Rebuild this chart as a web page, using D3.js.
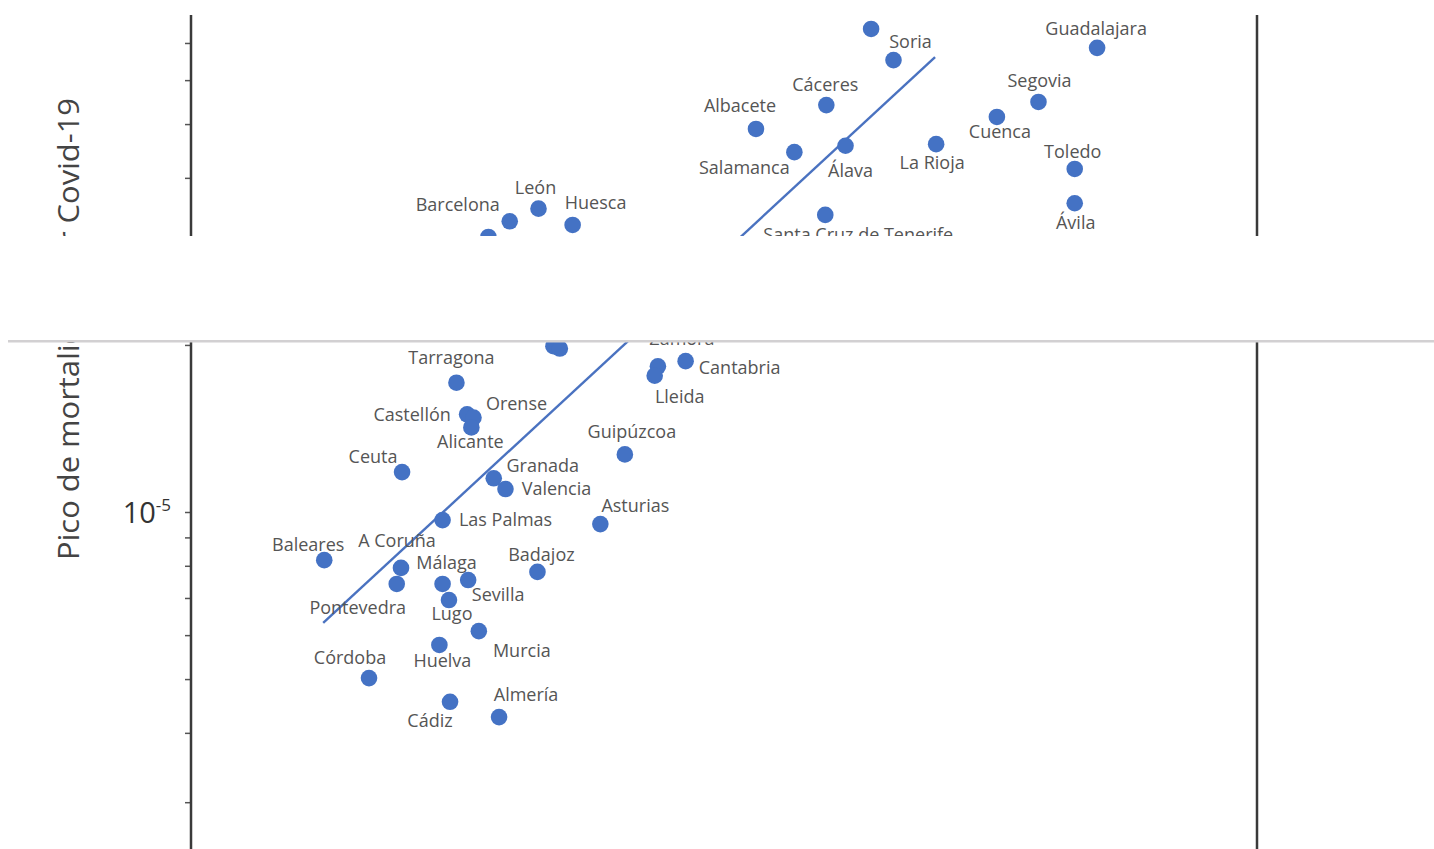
<!DOCTYPE html>
<html>
<head>
<meta charset="utf-8">
<title>Pico de mortalidad por Covid-19</title>
<script src="https://d3js.org/d3.v7.min.js"></script>
<style>
body{margin:0; background:#fff;}
svg{display:block;}
text{font-family:"Open Sans", sans-serif;}
</style>
</head>
<body>
<script>
// provincias (names "" = label not visible in the picture)
var provincias = ["", "Soria", "Guadalajara", "Segovia", "Cuenca", "Cáceres", "Albacete", "Álava",
  "Salamanca", "La Rioja", "Toledo", "Ávila", "Santa Cruz de Tenerife", "León", "Barcelona", "Huesca", "",
  "", "", "Zamora", "Lleida", "Cantabria", "Tarragona", "Castellón", "Orense", "Alicante", "Guipúzcoa",
  "Ceuta", "Granada", "Valencia", "Asturias", "Las Palmas", "Baleares", "A Coruña", "Pontevedra",
  "Málaga", "Lugo", "Sevilla", "Badajoz", "Murcia", "Huelva", "Córdoba", "Cádiz", "Almería"];

// x values (axis units not visible, read as 0-100 across the plot)
var xValor = [63.8, 65.9, 85.0, 79.5, 75.6, 59.6, 53.0, 61.4,
  56.6, 69.9, 82.9, 82.9, 59.5, 32.6, 29.9, 35.8, 27.9,
  34.0, 34.6, 43.8, 43.5, 46.4, 24.9, 25.9, 26.5, 26.3, 40.7,
  19.8, 28.4, 29.5, 38.4, 23.6, 12.5, 19.7, 19.3,
  23.6, 24.2, 26.0, 32.5, 27.0, 23.3, 16.7, 24.3, 28.9];

// pico de mortalidad (log scale)
var yPico = [7.42e-5, 6.52e-5, 6.86e-5, 5.48e-5, 5.15e-5, 5.41e-5, 4.90e-5, 4.57e-5,
  4.45e-5, 4.60e-5, 4.15e-5, 3.60e-5, 3.43e-5, 3.52e-5, 3.34e-5, 3.29e-5, 3.13e-5,
  1.99e-5, 1.97e-5, 1.83e-5, 1.76e-5, 1.87e-5, 1.71e-5, 1.50e-5, 1.48e-5, 1.42e-5, 1.27e-5,
  1.18e-5, 1.15e-5, 1.10e-5, 9.51e-6, 9.67e-6, 8.19e-6, 7.93e-6, 7.42e-6,
  7.42e-6, 6.94e-6, 7.54e-6, 7.80e-6, 6.10e-6, 5.76e-6, 5.02e-6, 4.55e-6, 4.27e-6];

// label offsets from the point (px)
var labelDx = [0, 17, -1, 1, 3, -1, -16, 5,
  -50, -4, -2, 1, 33, -3, -52, 23, 0,
  0, 0, 24, 25, 54, -5, -55, 43, -1, 7,
  -29, 49, 51, 35, 63, -16, -4, -39,
  4, 3, 30, 4, 43, 3, -19, -20, 27];
var labelDy = [0, -18, -19, -21, 15, -20, -23, 25,
  16, 19, -17, 19, 20, -21, -17, -22, 0,
  0, 0, -28, 21, 7, -25, 0, -14, 14, -23,
  -15, -13, 0, -18, 0, -15, -27, 24,
  -21, 14, 15, -17, 20, 16, -20, 19, -22];

// linea de tendencia
var tendenciaX = [12.4, 69.8];
var tendenciaY = [6.31e-6, 6.60e-5];

var yTicks = [3e-6, 4e-6, 5e-6, 6e-6, 7e-6, 8e-6, 9e-6, 1e-5, 2e-5, 3e-5, 4e-5, 5e-5, 6e-5, 7e-5];

var width = 1434, height = 849;
var plotLeft = 191, plotRight = 1257, plotTop = 15;

var svg = d3.select("body").append("svg").attr("width", width).attr("height", height);

var x = d3.scaleLinear().domain([0, 100]).range([plotLeft, plotRight]);
var y = d3.scaleLog().domain([1e-6, 1e-4]).range([512 + 555, 512 - 555]);

// left axis ticks
var ax = svg.append("g").attr("transform", "translate(" + plotLeft + ",0)")
  .call(d3.axisLeft(y).tickValues(yTicks).tickSize(6).tickFormat(""));
ax.select(".domain").remove();
ax.selectAll(".tick line").attr("stroke", "#555").attr("stroke-width", 1.5);

// axis frame lines
svg.append("line").attr("x1", plotLeft).attr("x2", plotLeft).attr("y1", plotTop).attr("y2", height)
  .attr("stroke", "#3a3a3a").attr("stroke-width", 2.5);
svg.append("line").attr("x1", plotRight).attr("x2", plotRight).attr("y1", plotTop).attr("y2", height)
  .attr("stroke", "#3a3a3a").attr("stroke-width", 2.5);

// 10^-5 label
var tl = svg.append("text").attr("x", 171).attr("y", y(1e-5) + 11)
  .attr("text-anchor", "end").attr("fill", "#333");
tl.append("tspan").attr("font-size", 29).text("10");
tl.append("tspan").attr("font-size", 17).attr("dy", -12).text("-5");

// y title
svg.append("text").attr("transform", "translate(79,560) rotate(-90)")
  .attr("text-anchor", "start").attr("font-size", 30).attr("fill", "#444")
  .attr("textLength", 462).attr("lengthAdjust", "spacingAndGlyphs")
  .text("Pico de mortalidad por Covid-19");

// trend line
svg.append("line")
  .attr("x1", x(tendenciaX[0])).attr("y1", y(tendenciaY[0]))
  .attr("x2", x(tendenciaX[1])).attr("y2", y(tendenciaY[1]))
  .attr("stroke", "#4a72c0").attr("stroke-width", 2.4);

// points
svg.append("g").selectAll("circle")
  .data(provincias)
  .enter()
  .append("circle")
  .attr("cx", function(d, i){ return x(xValor[i]); })
  .attr("cy", function(d, i){ return y(yPico[i]); })
  .attr("r", 8.3)
  .attr("fill", "#4472c4");

// labels
svg.append("g").selectAll("text")
  .data(provincias)
  .enter()
  .append("text")
  .attr("x", function(d, i){ return x(xValor[i]) + labelDx[i]; })
  .attr("y", function(d, i){ return y(yPico[i]) + labelDy[i]; })
  .attr("dy", "0.35em")
  .attr("text-anchor", "middle")
  .attr("font-size", 18)
  .attr("fill", "#555")
  .text(function(d){ return d; });

// blank band + separator line
svg.append("rect").attr("x", 0).attr("y", 236).attr("width", width).attr("height", 104).attr("fill", "#fff");
svg.append("rect").attr("x", 8).attr("y", 340).attr("width", width - 8).attr("height", 2.5).attr("fill", "#d2d0d2");
</script>
</body>
</html>
